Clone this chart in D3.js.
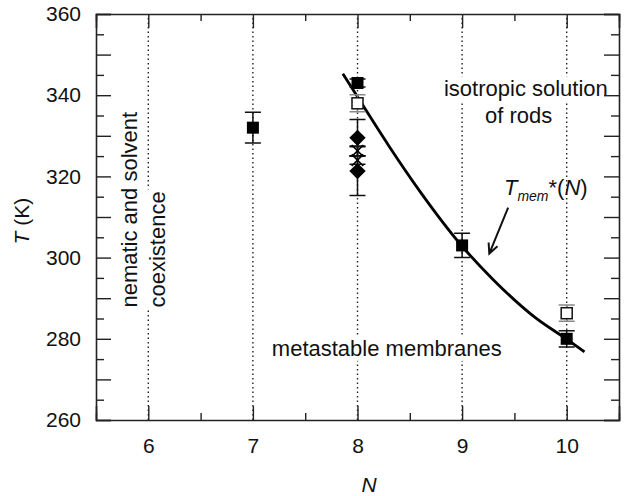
<!DOCTYPE html>
<html>
<head>
<meta charset="utf-8">
<script src="https://cdn.jsdelivr.net/npm/d3@7"></script>
<style>
  body { margin: 0; background: #fff; }
  svg { display: block; font-family: Arial, "Liberation Sans", sans-serif; }
</style>
</head>
<body>
<div id="chart"></div>
<script>
var width = 644, height = 496;

// values
var filledN   = [7, 8, 9, 10];
var filledT   = [332, 343, 303, 280];
var filledErr = [3.8, 1, 3, 2];

var openN   = [8, 10];
var openT   = [338, 286.3];
var openErr = [2.1, 2];

var diamondN   = [8, 8];
var diamondT   = [329.5, 321.3];
var diamondErr = [4.5, 6];

var crossN   = [8, 8];
var crossT   = [326.3, 324];
var crossErr = [1.2, 1];

// T_mem*(N) curve
var curveN = [7.86, 8.0, 8.3, 8.6, 9.0, 9.3, 9.7, 10.0, 10.17];
var curveT = [345.3, 339.6, 327.5, 316.2, 302.8, 294.5, 285.2, 279.9, 276.8];

var gridN  = [6, 7, 8, 9, 10];
var xTicks = [6, 7, 8, 9, 10];
var yTicks = [260, 280, 300, 320, 340, 360];

var margin = {left: 96, top: 14, right: 619, bottom: 420};
var fs = 21, fsText = 22;

var svg = d3.select("#chart").append("svg")
  .attr("width", width).attr("height", height);

var x = d3.scaleLinear().domain([5.5, 10.5]).range([margin.left, margin.right]);
var y = d3.scaleLinear().domain([260, 360]).range([margin.bottom, margin.top]);

// dotted verticals
svg.append("g").selectAll("line").data(gridN).join("line")
  .attr("x1", d => x(d)).attr("x2", d => x(d))
  .attr("y1", y(260)).attr("y2", y(360))
  .attr("stroke", "#222").attr("stroke-width", 1.4)
  .attr("stroke-dasharray", "1.5,3");

// labels with white knock-out behind them
var labels = svg.append("g");
function addLabel(str, n, t, anchor, rot) {
  var g = labels.append("g")
    .attr("transform", "translate(" + x(n) + "," + y(t) + ")" + (rot ? " rotate(-90)" : ""));
  var bg = g.append("rect").attr("fill", "#fff");
  var txt = g.append("text").attr("text-anchor", anchor)
    .attr("font-size", fsText).attr("fill", "#111").text(str);
  var b = txt.node().getBBox();
  bg.attr("x", b.x - 2).attr("y", b.y).attr("width", b.width + 4).attr("height", b.height);
}
addLabel("isotropic solution", 9.61, 339.7, "middle");
addLabel("of rods", 9.54, 333.1, "middle");
addLabel("metastable membranes", 8.28, 275.8, "middle");
addLabel("nematic and solvent", 5.89, 287.7, "start", true);
addLabel("coexistence", 6.16, 287.7, "start", true);

// T_mem*(N) label
var tl = svg.append("text").attr("x", x(9.4)).attr("y", y(315.5))
  .attr("font-size", fsText).attr("fill", "#111");
tl.append("tspan").attr("font-style", "italic").text("T");
tl.append("tspan").attr("font-style", "italic").attr("font-size", 14).attr("dy", 6).text("mem");
tl.append("tspan").attr("dy", -6).text("*(");
tl.append("tspan").attr("font-style", "italic").text("N");
tl.append("tspan").text(")");

// arrow
var arrowFrom = [9.44, 312.3], arrowTo = [9.26, 301];
var ax0 = x(arrowFrom[0]), ay0 = y(arrowFrom[1]), ax1 = x(arrowTo[0]), ay1 = y(arrowTo[1]);
var ang = Math.atan2(ay1 - ay0, ax1 - ax0), hl = 11;
svg.append("path")
  .attr("d", "M" + ax0 + "," + ay0 + "L" + ax1 + "," + ay1 +
    "M" + (ax1 - hl * Math.cos(ang - 0.45)) + "," + (ay1 - hl * Math.sin(ang - 0.45)) +
    "L" + ax1 + "," + ay1 +
    "L" + (ax1 - hl * Math.cos(ang + 0.45)) + "," + (ay1 - hl * Math.sin(ang + 0.45)))
  .attr("fill", "none").attr("stroke", "#111").attr("stroke-width", 2);

// curve
var curvePts = curveN.map((n, i) => [n, curveT[i]]);
svg.append("path").datum(curvePts)
  .attr("d", d3.line().x(d => x(d[0])).y(d => y(d[1])).curve(d3.curveMonotoneX))
  .attr("fill", "none").attr("stroke", "#000").attr("stroke-width", 2.8);

// error bars
function errBars(ns, ts, es, color) {
  var pts = ns.map((n, i) => ({n: n, t: ts[i], e: es[i]}));
  var g = svg.append("g").attr("stroke", color).attr("stroke-width", 1.5).attr("fill", "none");
  g.selectAll("path").data(pts).join("path")
    .attr("d", d => {
      var cx = x(d.n), y0 = y(d.t - d.e), y1 = y(d.t + d.e), w = 8;
      return "M" + cx + "," + y0 + "V" + y1 +
        "M" + (cx - w) + "," + y0 + "H" + (cx + w) +
        "M" + (cx - w) + "," + y1 + "H" + (cx + w);
    });
}
errBars(filledN, filledT, filledErr, "#111");
errBars(openN, openT, openErr, "#888");
errBars(diamondN, diamondT, diamondErr, "#111");
errBars(crossN, crossT, crossErr, "#111");

// markers
svg.append("g").selectAll("rect").data(filledN.map((n, i) => [n, filledT[i]])).join("rect")
  .attr("x", d => x(d[0]) - 6).attr("y", d => y(d[1]) - 6)
  .attr("width", 12).attr("height", 12).attr("fill", "#000");
svg.append("g").selectAll("rect").data(openN.map((n, i) => [n, openT[i]])).join("rect")
  .attr("x", d => x(d[0]) - 5.5).attr("y", d => y(d[1]) - 5.5)
  .attr("width", 11).attr("height", 11).attr("fill", "#fff")
  .attr("stroke", "#111").attr("stroke-width", 1.5);
svg.append("g").selectAll("path").data(diamondN.map((n, i) => [n, diamondT[i]])).join("path")
  .attr("transform", d => "translate(" + x(d[0]) + "," + y(d[1]) + ")")
  .attr("d", d3.symbol().type(d3.symbolDiamond2).size(170))
  .attr("fill", "#000");
svg.append("g").selectAll("path").data(crossN.map((n, i) => [n, crossT[i]])).join("path")
  .attr("transform", d => "translate(" + x(d[0]) + "," + y(d[1]) + ")")
  .attr("d", d3.symbol().type(d3.symbolTimes).size(90))
  .attr("fill", "none").attr("stroke", "#000").attr("stroke-width", 1.6);

// axes
var yMinor = d3.range(260, 361, 5);
var xMinor = d3.range(5.5, 10.51, 0.5);
function styleAxis(g, isMajor, longLen, shortLen, vertical) {
  g.select(".domain").attr("stroke", "#222").attr("stroke-width", 1.6);
  g.selectAll(".tick line").attr("stroke", "#222").attr("stroke-width", 1.4)
    .each(function(d) {
      var len = isMajor(d) ? longLen : shortLen;
      var sel = d3.select(this);
      if (vertical) sel.attr("x2", sel.attr("x2") < 0 ? -len : len);
      else sel.attr("y2", sel.attr("y2") < 0 ? -len : len);
    });
  g.selectAll(".tick text").attr("font-size", fs).attr("fill", "#111")
    .attr("font-family", "Arial, 'Liberation Sans', sans-serif");
}
var yMajor = d => d % 10 === 0;
var xMajor = d => Math.abs(d - Math.round(d)) < 1e-6;

svg.append("g").attr("transform", "translate(" + margin.left + ",0)")
  .call(d3.axisLeft(y).tickValues(yMinor).tickSize(-15).tickPadding(15)
    .tickFormat(d => yTicks.includes(d) ? d : ""))
  .call(g => styleAxis(g, yMajor, 15, 8, true));
svg.append("g").attr("transform", "translate(" + margin.right + ",0)")
  .call(d3.axisRight(y).tickValues(yMinor).tickSize(-15).tickFormat(""))
  .call(g => styleAxis(g, yMajor, 15, 8, true));
svg.append("g").attr("transform", "translate(0," + margin.bottom + ")")
  .call(d3.axisBottom(x).tickValues(xMinor).tickSize(-14).tickPadding(18)
    .tickFormat(d => xTicks.includes(d) ? d : ""))
  .call(g => styleAxis(g, xMajor, 14, 7, false));
svg.append("g").attr("transform", "translate(0," + margin.top + ")")
  .call(d3.axisTop(x).tickValues(xMinor).tickSize(-14).tickFormat(""))
  .call(g => styleAxis(g, xMajor, 14, 7, false));

// axis titles
var yt = svg.append("text").attr("transform", "translate(29," + y(309) + ") rotate(-90)")
  .attr("text-anchor", "middle").attr("font-size", fs).attr("fill", "#111");
yt.append("tspan").attr("font-style", "italic").text("T");
yt.append("tspan").text(" (K)");
svg.append("text").attr("x", 369).attr("y", 492).attr("text-anchor", "middle")
  .attr("font-size", fs).attr("font-style", "italic").attr("fill", "#111").text("N");
</script>
</body>
</html>
